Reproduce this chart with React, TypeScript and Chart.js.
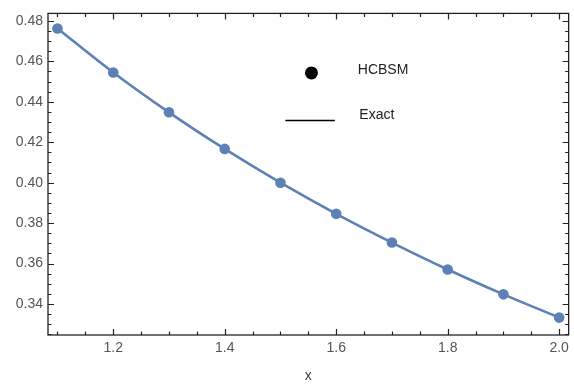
import { useEffect, useRef } from "react";
import { Chart, registerables } from "chart.js";

Chart.register(...registerables);

// ---- data ----
const xValues = [1.1, 1.2, 1.3, 1.4, 1.5, 1.6, 1.7, 1.8, 1.9, 2.0];
const hcbsmValues = [0.4762, 0.4545, 0.4348, 0.4167, 0.4, 0.3846, 0.3704, 0.3571, 0.3448, 0.3333];
const exactValues = [0.4762, 0.4545, 0.4348, 0.4167, 0.4, 0.3846, 0.3704, 0.3571, 0.3448, 0.3333];
const xMajorTicks = [1.2, 1.4, 1.6, 1.8, 2.0];
const yMajorTicks = [0.34, 0.36, 0.38, 0.4, 0.42, 0.44, 0.46, 0.48];
const xMinorTicks = [1.1, 1.15, 1.25, 1.3, 1.35, 1.45, 1.5, 1.55, 1.65, 1.7, 1.75, 1.85, 1.9, 1.95];
const yMinorTicks = [
  0.325, 0.33, 0.335, 0.345, 0.35, 0.355, 0.365, 0.37, 0.375, 0.385, 0.39, 0.395,
  0.405, 0.41, 0.415, 0.425, 0.43, 0.435, 0.445, 0.45, 0.455, 0.465, 0.47, 0.475,
];
const legendLabels = ["HCBSM", "Exact"];
const xTitle = "x";

const BLUE = "#5e81b5";
const FONT = "'Liberation Sans', Arial, sans-serif";

const isMajor = (v: number, majors: number[]) => majors.some((m) => Math.abs(m - v) < 1e-6);

const framePlugin = {
  id: "frameTicks",
  beforeDatasetsDraw(chart: any) {
    const { ctx, chartArea: a, scales } = chart;
    const xs = scales.x;
    const ys = scales.y;
    ctx.save();
    ctx.strokeStyle = "#222";
    ctx.lineWidth = 1.3;
    ctx.strokeRect(a.left, a.top, a.right - a.left, a.bottom - a.top);
    ctx.lineWidth = 1.2;
    ctx.beginPath();
    xs.ticks.forEach((t: any) => {
      const px = Math.round(xs.getPixelForValue(t.value)) + 0.5;
      const len = isMajor(t.value, xMajorTicks) ? 6 : 3.5;
      ctx.moveTo(px, a.bottom);
      ctx.lineTo(px, a.bottom - len);
      ctx.moveTo(px, a.top);
      ctx.lineTo(px, a.top + len);
    });
    ys.ticks.forEach((t: any) => {
      const py = Math.round(ys.getPixelForValue(t.value)) + 0.5;
      const len = isMajor(t.value, yMajorTicks) ? 6 : 3.5;
      ctx.moveTo(a.left, py);
      ctx.lineTo(a.left + len, py);
      ctx.moveTo(a.right, py);
      ctx.lineTo(a.right - len, py);
    });
    ctx.stroke();
    ctx.restore();
  },
  afterDraw(chart: any) {
    const { ctx, chartArea: a } = chart;
    const w = a.right - a.left;
    const h = a.bottom - a.top;
    ctx.save();
    // legend
    ctx.fillStyle = "#000";
    ctx.beginPath();
    ctx.arc(a.left + 0.506 * w, a.top + 0.185 * h, 6.5, 0, Math.PI * 2);
    ctx.fill();
    ctx.strokeStyle = "#000";
    ctx.lineWidth = 1.6;
    ctx.beginPath();
    ctx.moveTo(a.left + 0.456 * w, a.top + 0.333 * h);
    ctx.lineTo(a.left + 0.551 * w, a.top + 0.333 * h);
    ctx.stroke();
    ctx.fillStyle = "#222";
    ctx.font = `14px ${FONT}`;
    ctx.textAlign = "left";
    ctx.textBaseline = "middle";
    ctx.fillText(legendLabels[0], a.left + 0.595 * w, a.top + 0.176 * h);
    ctx.fillText(legendLabels[1], a.left + 0.598 * w, a.top + 0.316 * h);
    // x title
    ctx.fillStyle = "#444";
    ctx.font = `14px ${FONT}`;
    ctx.textAlign = "center";
    ctx.fillText(xTitle, (a.left + a.right) / 2, a.bottom + 41);
    ctx.restore();
  },
};

export default function App() {
  const ref = useRef<HTMLCanvasElement>(null);

  useEffect(() => {
    document.body.style.margin = "0";
    if (!ref.current) return;
    const chart = new Chart(ref.current, {
      type: "line",
      data: {
        datasets: [
          {
            label: legendLabels[1],
            data: xValues.map((x, i) => ({ x, y: exactValues[i] })),
            borderColor: BLUE,
            borderWidth: 2.6,
            pointRadius: 0,
            cubicInterpolationMode: "monotone",
            fill: false,
            order: 2,
          },
          {
            label: legendLabels[0],
            data: xValues.map((x, i) => ({ x, y: hcbsmValues[i] })),
            showLine: false,
            pointRadius: 5.3,
            pointBackgroundColor: BLUE,
            pointBorderColor: BLUE,
            pointBorderWidth: 0,
            order: 1,
          },
        ],
      },
      options: {
        animation: false,
        responsive: false,
        layout: { padding: { top: 10, right: 2, left: 0, bottom: 0 } },
        plugins: { legend: { display: false }, tooltip: { enabled: false } },
        scales: {
          x: {
            type: "linear",
            min: 1.083,
            max: 2.017,
            afterFit: (s: any) => {
              s.height = 49;
            },
            afterBuildTicks: (s: any) => {
              s.ticks = [...xMinorTicks, ...xMajorTicks]
                .sort((p, q) => p - q)
                .map((value) => ({ value }));
            },
            grid: { display: false, drawTicks: false },
            border: { display: false },
            ticks: {
              autoSkip: false,
              maxRotation: 0,
              padding: 5,
              color: "#555",
              font: { family: FONT, size: 14 },
              callback: (v: any) => (isMajor(Number(v), xMajorTicks) ? Number(v).toFixed(1) : ""),
            },
          },
          y: {
            type: "linear",
            min: 0.3247,
            max: 0.4837,
            afterFit: (s: any) => {
              s.width = 48;
            },
            afterBuildTicks: (s: any) => {
              s.ticks = [...yMinorTicks, ...yMajorTicks]
                .sort((p, q) => p - q)
                .map((value) => ({ value }));
            },
            grid: { display: false, drawTicks: false },
            border: { display: false },
            ticks: {
              autoSkip: false,
              padding: 5,
              color: "#555",
              font: { family: FONT, size: 14 },
              callback: (v: any) => (isMajor(Number(v), yMajorTicks) ? Number(v).toFixed(2) : ""),
            },
          },
        },
      },
      plugins: [framePlugin],
    } as any);
    return () => chart.destroy();
  }, []);

  return (
    <div style={{ width: 574, height: 384 }}>
      <canvas ref={ref} width={574} height={384} />
    </div>
  );
}
